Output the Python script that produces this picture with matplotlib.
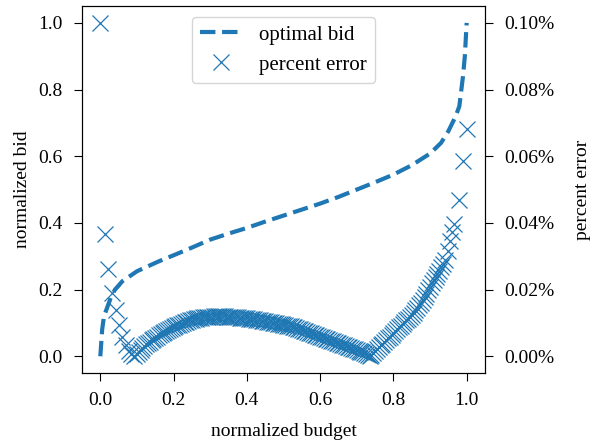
import matplotlib.pyplot as plt
from matplotlib.ticker import PercentFormatter

plt.rcParams['font.family'] = ['Liberation Serif', 'DejaVu Serif']
plt.rcParams['font.size'] = 14
plt.rcParams['xtick.major.size'] = 6
plt.rcParams['ytick.major.size'] = 6
plt.rcParams['xtick.major.pad'] = 8
plt.rcParams['ytick.major.pad'] = 8

# optimal bid curve (normalized budget -> normalized bid)
bid_budget = [0.0, 0.005, 0.01, 0.02, 0.03, 0.04, 0.06, 0.08, 0.1, 0.13,
              0.16, 0.2, 0.25, 0.3, 0.35, 0.4, 0.45, 0.5, 0.55, 0.6,
              0.65, 0.7, 0.75, 0.8, 0.85, 0.9, 0.93, 0.95, 0.97, 0.98,
              0.99, 0.995, 1.0]
bid_value = [0.0, 0.08, 0.12, 0.15, 0.18, 0.20, 0.225, 0.24, 0.255, 0.27,
             0.285, 0.303, 0.326, 0.35, 0.368, 0.385, 0.404, 0.422, 0.44, 0.458,
             0.478, 0.50, 0.522, 0.545, 0.573, 0.608, 0.64, 0.675, 0.72, 0.75,
             0.84, 0.9, 1.0]

# percent error samples (in %)
err_budget = [
    0.0, 0.013, 0.022, 0.033, 0.042, 0.051, 0.060, 0.069, 0.077, 0.084, 0.092,
    0.100, 0.105, 0.110, 0.115, 0.120, 0.125, 0.130, 0.135, 0.140, 0.145,
    0.150, 0.155, 0.160, 0.165, 0.170, 0.175, 0.180, 0.185, 0.190, 0.195,
    0.200, 0.205, 0.210, 0.215, 0.220, 0.225, 0.230, 0.235, 0.240, 0.245,
    0.250, 0.255, 0.260, 0.265, 0.270, 0.275, 0.280, 0.285, 0.290, 0.295,
    0.300, 0.305, 0.310, 0.315, 0.320, 0.325, 0.330, 0.335, 0.340, 0.345,
    0.350, 0.355, 0.360, 0.365, 0.370, 0.375, 0.380, 0.385, 0.390, 0.395,
    0.400, 0.405, 0.410, 0.415, 0.420, 0.425, 0.430, 0.435, 0.440, 0.445,
    0.450, 0.455, 0.460, 0.465, 0.470, 0.475, 0.480, 0.485, 0.490, 0.495,
    0.500, 0.505, 0.510, 0.515, 0.520, 0.525, 0.530, 0.535, 0.540, 0.545,
    0.550, 0.555, 0.560, 0.565, 0.570, 0.575, 0.580, 0.585, 0.590, 0.595,
    0.600, 0.605, 0.610, 0.615, 0.620, 0.625, 0.630, 0.635, 0.640, 0.645,
    0.650, 0.655, 0.660, 0.665, 0.670, 0.675, 0.680, 0.685, 0.690, 0.695,
    0.700, 0.705, 0.710, 0.715, 0.720, 0.725, 0.730, 0.735, 0.740, 0.745,
    0.750, 0.755, 0.760, 0.765, 0.770, 0.775, 0.780, 0.785, 0.790, 0.795,
    0.800, 0.805, 0.810, 0.815, 0.820, 0.825, 0.830, 0.835, 0.840, 0.845,
    0.850, 0.855, 0.860, 0.865, 0.870, 0.875, 0.880, 0.885, 0.890, 0.895,
    0.900, 0.905, 0.910, 0.915, 0.920, 0.925, 0.930, 0.935,
    0.941, 0.948, 0.954, 0.960, 0.966, 0.978, 0.989, 1.0,
]
err_pct = [
    0.100, 0.0367, 0.0261, 0.0190, 0.0138, 0.0093, 0.0058, 0.0033, 0.0017, 0.0007, 0.0000,
    0.0008, 0.0014, 0.0019, 0.0025, 0.0030, 0.0036, 0.0040, 0.0044, 0.0048, 0.0052,
    0.0056, 0.0059, 0.0063, 0.0066, 0.0069, 0.0073, 0.0076, 0.0079, 0.0082, 0.0085,
    0.0088, 0.0090, 0.0093, 0.0095, 0.0098, 0.0100, 0.0102, 0.0104, 0.0106, 0.0108,
    0.0110, 0.0112, 0.0113, 0.0114, 0.0115, 0.0116, 0.0117, 0.0117, 0.0118, 0.0118,
    0.0119, 0.0119, 0.0120, 0.0120, 0.0120, 0.0120, 0.0120, 0.0120, 0.0120, 0.0119,
    0.0119, 0.0119, 0.0118, 0.0118, 0.0117, 0.0117, 0.0116, 0.0116, 0.0115, 0.0115,
    0.0114, 0.0113, 0.0113, 0.0112, 0.0111, 0.0110, 0.0109, 0.0108, 0.0107, 0.0106,
    0.0105, 0.0104, 0.0103, 0.0102, 0.0101, 0.0100, 0.0099, 0.0098, 0.0097, 0.0096,
    0.0095, 0.0093, 0.0092, 0.0091, 0.0090, 0.0088, 0.0087, 0.0085, 0.0083, 0.0081,
    0.0079, 0.0077, 0.0075, 0.0073, 0.0071, 0.0069, 0.0067, 0.0065, 0.0063, 0.0061,
    0.0059, 0.0057, 0.0055, 0.0053, 0.0051, 0.0049, 0.0047, 0.0045, 0.0043, 0.0041,
    0.0039, 0.0037, 0.0035, 0.0033, 0.0031, 0.0029, 0.0027, 0.0025, 0.0023, 0.0021,
    0.0019, 0.0017, 0.0014, 0.0012, 0.0009, 0.0006, 0.0003, 0.0000, 0.0005, 0.0011,
    0.0016, 0.0022, 0.0027, 0.0033, 0.0038, 0.0043, 0.0049, 0.0054, 0.0059, 0.0065,
    0.0070, 0.0076, 0.0081, 0.0087, 0.0092, 0.0097, 0.0103, 0.0108, 0.0113, 0.0118,
    0.0123, 0.0130, 0.0138, 0.0145, 0.0153, 0.0160, 0.0168, 0.0178, 0.0188, 0.0198,
    0.0209, 0.0219, 0.0229, 0.0238, 0.0248, 0.0257, 0.0267, 0.0277,
    0.0290, 0.0317, 0.0347, 0.0372, 0.0397, 0.0470, 0.0585, 0.0682,
]

fig, ax = plt.subplots(figsize=(5.9, 4.44), dpi=100)
fig.subplots_adjust(left=0.139, right=0.822, top=0.986, bottom=0.16)

l1, = ax.plot(bid_budget, bid_value, '--', color='#1f77b4', lw=3, label='optimal bid')
ax.set_xlabel('normalized budget', labelpad=10)
ax.set_ylabel('normalized bid', labelpad=5)

ax2 = ax.twinx()
l2, = ax2.plot(err_budget, err_pct, 'x', color='#1f77b4', ms=11, mew=0.9,
               linestyle='none', label='percent error')
ax2.yaxis.set_major_formatter(PercentFormatter(xmax=100, decimals=2))
ax2.set_ylabel('percent error', labelpad=14)

ax2.legend(handles=[l1, l2], loc='upper center', fontsize=15)

fig.savefig('out.png')
